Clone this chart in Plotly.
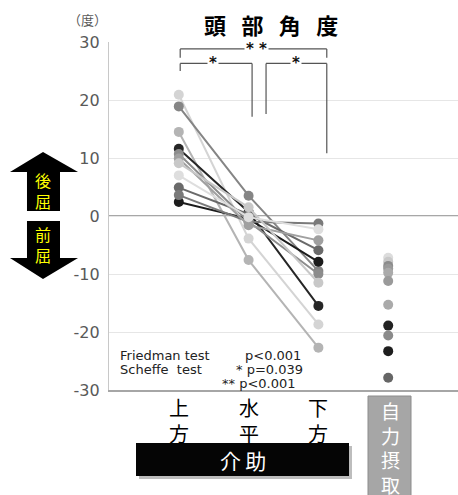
import plotly.graph_objects as go

# 介助 conditions (connected per subject) and the self-feeding condition
categories = ["上方", "水平", "下方"]
self_feeding_label = "自力摂取"

# Head angle (degrees) per subject: upper / horizontal / lower spoon position
upper = [20.9, 14.5, 18.9, 11.6, 2.4, 4.9, 3.6, 10.7, 9.9, 9.1, 7.0]
horizontal = [-3.9, -7.6, 3.5, 0.7, -0.5, 0.3, -1.0, -1.0, -1.6, 1.5, -0.2]
lower = [-18.7, -22.7, -9.5, -15.5, -7.9, -5.9, -1.3, -10.0, -4.2, -11.5, -2.3]
subject_colors = ["#d4d4d4", "#b4b4b4", "#858585", "#262626", "#1c1c1c", "#6a6a6a",
                  "#7a7a7a", "#8c8c8c", "#a0a0a0", "#c8c8c8", "#dedede"]

# Self-feeding head angle (degrees)
self_feeding = [-7.2, -7.9, -8.6, -9.1, -9.8, -11.2, -15.3, -18.9, -20.6, -23.3, -27.9]
self_colors = ["#dcdcdc", "#c8c8c8", "#8c8c8c", "#9a9a9a", "#aaaaaa", "#9a9a9a",
               "#aaaaaa", "#222222", "#8a8a8a", "#1e1e1e", "#666666"]

y_ticks = [30, 20, 10, 0, -10, -20, -30]

W, H = 458, 495
L, R, T, B = 109, 0, 42, 105


def px(xp):
    return (xp - L) / (W - L - R)


def py(yp):
    return (H - B - yp) / (H - T - B)


fig = go.Figure()

for i in range(len(upper)):
    fig.add_trace(go.Scatter(
        x=[0, 1, 2], y=[upper[i], horizontal[i], lower[i]],
        mode="lines+markers",
        line=dict(color=subject_colors[i], width=2),
        marker=dict(color=subject_colors[i], size=10),
        showlegend=False, hoverinfo="y"))

fig.add_trace(go.Scatter(
    x=[3] * len(self_feeding), y=self_feeding, mode="markers",
    marker=dict(color=self_colors, size=10),
    showlegend=False, hoverinfo="y"))

shapes = []
line_c = "#555555"


def seg(x0, y0, x1, y1):
    shapes.append(dict(type="line", xref="x", yref="y", x0=x0, y0=y0, x1=x1, y1=y1,
                       line=dict(color=line_c, width=1.2), layer="above"))


# Significance brackets
seg(0.02, 28.8, 2.12, 28.8)
seg(0.02, 28.8, 0.02, 27.3)
seg(2.12, 28.8, 2.12, 27.3)
seg(0.02, 26.3, 1.05, 26.3)
seg(0.02, 26.3, 0.02, 25.0)
seg(1.05, 26.3, 1.05, 17.1)
seg(1.25, 26.3, 2.12, 26.3)
seg(1.25, 26.3, 1.25, 17.6)
seg(2.12, 26.3, 2.12, 10.8)

# Zero reference line
shapes.append(dict(type="line", xref="paper", yref="y", x0=0, x1=1, y0=0, y1=0,
                   line=dict(color="#8a8a8a", width=1.5), layer="below"))


def poly(points, fill):
    d = "M " + " L ".join(f"{px(a):.4f},{py(b):.4f}" for a, b in points) + " Z"
    shapes.append(dict(type="path", xref="paper", yref="paper", path=d,
                       fillcolor=fill, line=dict(width=0), layer="above"))


# Up / down arrows on the left side
poly([(43, 152), (78, 172), (60, 172), (60, 211), (27, 211), (27, 172), (10, 172)], "#000000")
poly([(27, 221), (60, 221), (60, 258), (78, 258), (43, 279), (10, 258), (27, 258)], "#000000")

# Black 介助 bar and grey 自力摂取 box
shapes.append(dict(type="rect", xref="paper", yref="paper",
                   x0=px(139), x1=px(352), y0=py(446), y1=py(479),
                   fillcolor="#bdbdbd", line=dict(width=0), layer="above"))
shapes.append(dict(type="rect", xref="paper", yref="paper",
                   x0=px(136), x1=px(349), y0=py(443), y1=py(476),
                   fillcolor="#050505", line=dict(width=0), layer="above"))
shapes.append(dict(type="rect", xref="paper", yref="paper",
                   x0=px(368), x1=px(411), y0=py(396), y1=py(497),
                   fillcolor="#a6a6a6", line=dict(color="#8c8c8c", width=1), layer="above"))

cjk = "Noto Sans CJK JP"
ann = []


def text(xp, yp, s, size, color="#000000", family=cjk, xanchor="center", bold=False):
    ann.append(dict(xref="paper", yref="paper", x=px(xp), y=py(yp),
                    text=f"<b>{s}</b>" if bold else s,
                    showarrow=False, xanchor=xanchor, yanchor="middle",
                    font=dict(family=family, size=size, color=color)))


def vertical(s):
    return "<br>".join(s)


text(271, 24, "\u2002\u2009".join("頭部角度"), 22, bold=True)
text(87, 20, "（度）", 13, color="#595959")

# significance stars
star_font = dict(family="DejaVu Sans", size=15, color="#111111")
ann.append(dict(xref="x", yref="y", x=1.12, y=28.8, text="<b>* *</b>", showarrow=False,
                font=star_font, bgcolor="white", yanchor="middle"))
ann.append(dict(xref="x", yref="y", x=0.49, y=26.3, text="<b>*</b>", showarrow=False,
                font=star_font, bgcolor="white", yanchor="middle"))
ann.append(dict(xref="x", yref="y", x=1.68, y=26.3, text="<b>*</b>", showarrow=False,
                font=star_font, bgcolor="white", yanchor="middle"))

# statistics note
stat_font = "DejaVu Sans"
sc = "#222222"
text(118, 355, "Friedman test", 13, color=sc, family=stat_font, xanchor="left")
text(243, 355, "p<0.001", 13, color=sc, family=stat_font, xanchor="left")
text(118, 369, "Scheffe  test", 13, color=sc, family=stat_font, xanchor="left")
text(234, 369, "* p=0.039", 13, color=sc, family=stat_font, xanchor="left")
text(220, 383, "** p<0.001", 13, color=sc, family=stat_font, xanchor="left")

# category labels (two stacked characters each)
for i, c in enumerate(categories):
    xc = 178.8 + i * 69.8
    text(xc, 420, vertical(c), 20)

text(243, 460, "介\u2009助", 21, color="#ffffff")
text(390, 447, vertical(self_feeding_label), 19, color="#ffffff")

# arrow captions
text(43, 190, vertical("後屈"), 16, color="#ffff00")
text(43, 245, vertical("前屈"), 16, color="#ffff00")

fig.update_layout(
    width=W, height=H,
    margin=dict(l=L, r=R, t=T, b=B),
    paper_bgcolor="white", plot_bgcolor="white",
    shapes=shapes, annotations=ann,
    xaxis=dict(range=[-1, 4], showticklabels=False, showgrid=False, zeroline=False,
               showline=True, linecolor="#a6a6a6", linewidth=1.5, ticks="", fixedrange=True),
    yaxis=dict(range=[-30, 30], tickvals=y_ticks, ticktext=[str(v) for v in y_ticks],
               showgrid=True, gridcolor="#e6e6e6", gridwidth=1, zeroline=False,
               showline=True, linecolor="#c8c8c8", linewidth=1.2, ticks="",
               tickfont=dict(family="DejaVu Sans", size=16, color="#595959"),
               ticklabelstandoff=5, fixedrange=True),
)

fig.write_html("out.html")
